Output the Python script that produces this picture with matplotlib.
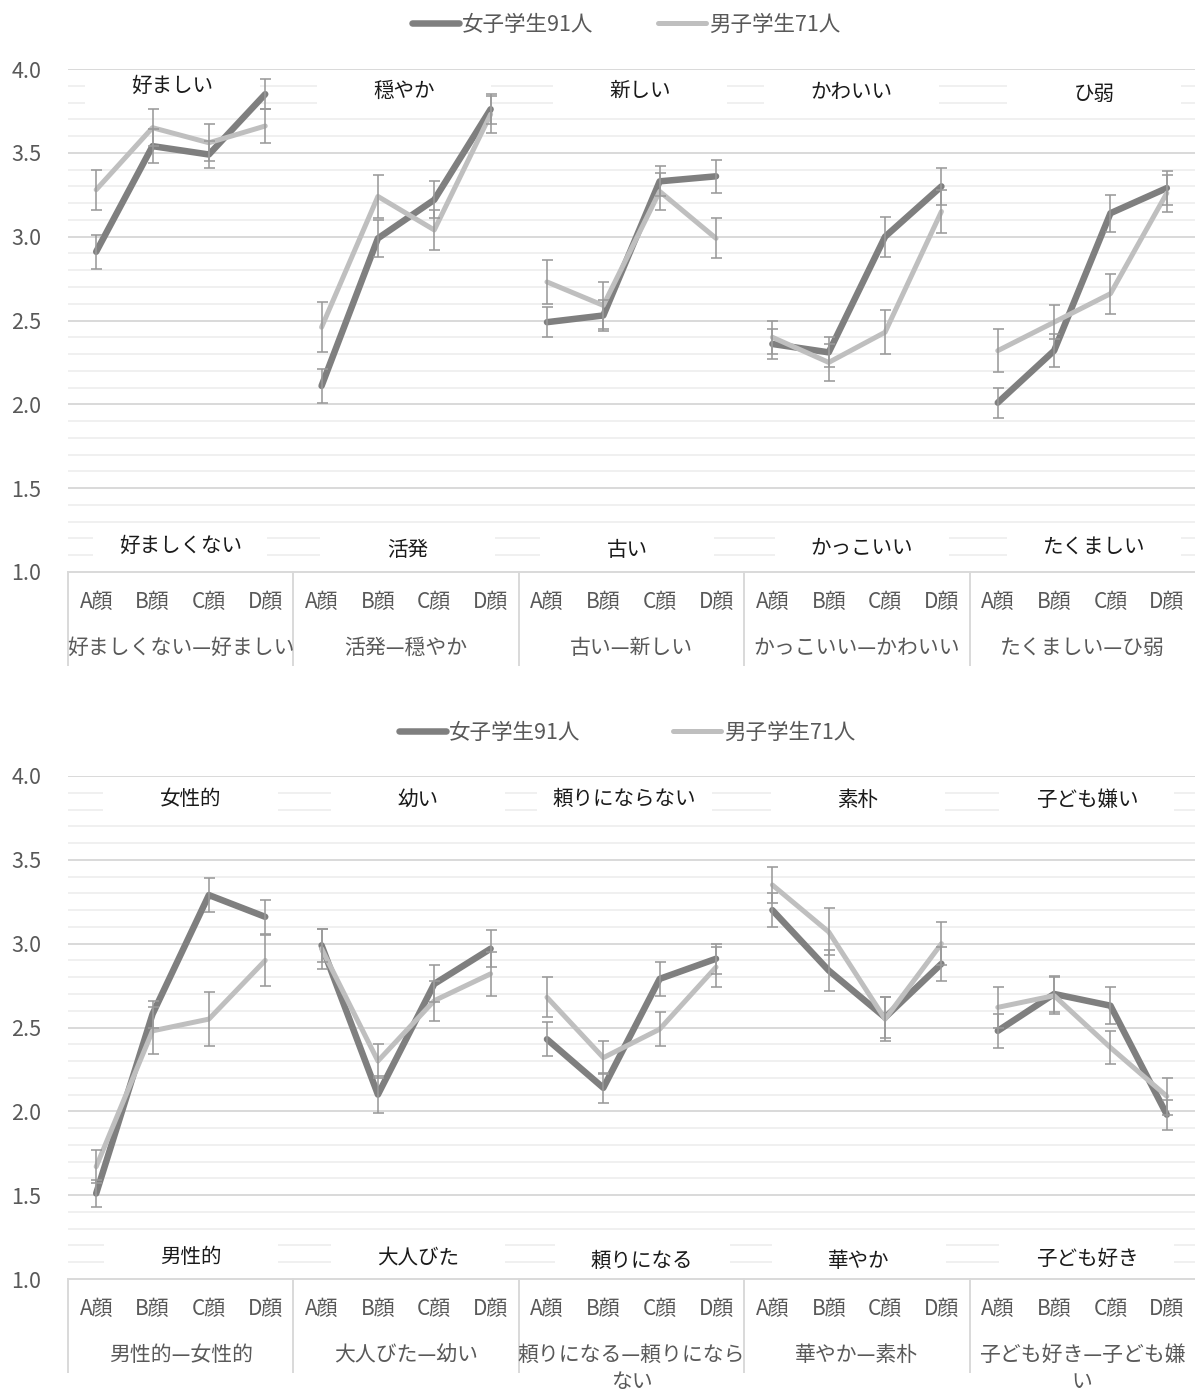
import matplotlib
matplotlib.use('Agg')
import matplotlib.pyplot as plt
from matplotlib.lines import Line2D
from matplotlib.patches import Rectangle
import matplotlib.transforms as mtransforms
import numpy as np

plt.rcParams['font.family'] = ['Noto Sans CJK JP', 'DejaVu Sans']

# ---------------- data ----------------
faces = ['A顔', 'B顔', 'C顔', 'D顔']
legend_labels = ['女子学生91人', '男子学生71人']

groups1 = ['好ましくない—好ましい', '活発—穏やか', '古い—新しい', 'かっこいい—かわいい', 'たくましい—ひ弱']
poles_hi1 = ['好ましい', '穏やか', '新しい', 'かわいい', 'ひ弱']
poles_lo1 = ['好ましくない', '活発', '古い', 'かっこいい', 'たくましい']
female1 = [2.91, 3.54, 3.49, 3.85, 2.11, 2.99, 3.22, 3.76, 2.49, 2.53, 3.33, 3.36,
           2.36, 2.31, 3.00, 3.30, 2.01, 2.32, 3.14, 3.29]
female1_err = [0.10, 0.10, 0.08, 0.09, 0.10, 0.11, 0.11, 0.09, 0.09, 0.09, 0.09, 0.10,
               0.09, 0.09, 0.12, 0.11, 0.09, 0.10, 0.11, 0.10]
male1 = [3.28, 3.65, 3.56, 3.66, 2.46, 3.24, 3.04, 3.73, 2.73, 2.59, 3.27, 2.99,
         2.40, 2.25, 2.43, 3.15, 2.32, 2.49, 2.66, 3.26]
male1_err = [0.12, 0.11, 0.11, 0.10, 0.15, 0.13, 0.12, 0.11, 0.13, 0.14, 0.11, 0.12,
             0.10, 0.11, 0.13, 0.13, 0.13, 0.10, 0.12, 0.11]

groups2 = ['男性的—女性的', '大人びた—幼い', '頼りになる—頼りになら\nない', '華やか—素朴', '子ども好き—子ども嫌\nい']
poles_hi2 = ['女性的', '幼い', '頼りにならない', '素朴', '子ども嫌い']
poles_lo2 = ['男性的', '大人びた', '頼りになる', '華やか', '子ども好き']
female2 = [1.51, 2.58, 3.29, 3.16, 2.99, 2.10, 2.76, 2.97, 2.43, 2.14, 2.79, 2.91,
           3.20, 2.84, 2.56, 2.88, 2.48, 2.70, 2.63, 1.98]
female2_err = [0.08, 0.08, 0.10, 0.10, 0.10, 0.11, 0.11, 0.11, 0.10, 0.09, 0.10, 0.09,
               0.10, 0.12, 0.12, 0.10, 0.10, 0.11, 0.11, 0.09]
male2 = [1.67, 2.48, 2.55, 2.90, 2.97, 2.30, 2.66, 2.82, 2.68, 2.32, 2.49, 2.86,
         3.35, 3.07, 2.55, 3.00, 2.62, 2.69, 2.38, 2.09]
male2_err = [0.10, 0.14, 0.16, 0.15, 0.12, 0.10, 0.12, 0.13, 0.12, 0.10, 0.10, 0.12,
             0.11, 0.14, 0.13, 0.13, 0.12, 0.11, 0.10, 0.11]

# ---------------- layout / style ----------------
W, H = 1195, 1396
FEMALE_C = '#7f7f7f'
MALE_C = '#bfbfbf'
ERR_C = '#9a9a9a'
TXT_C = '#595959'
px = 72.0 / 100.0  # points per pixel

hi_pos1 = [(1.35, 3.90), (5.46, 3.87), (9.65, 3.87), (13.41, 3.86), (17.71, 3.85)]
lo_pos1 = [(1.49, 1.155), (5.53, 1.13), (9.42, 1.13), (13.59, 1.14), (17.71, 1.15)]
hi_pos2 = [(1.67, 3.86), (5.71, 3.86), (9.38, 3.865), (13.52, 3.855), (17.58, 3.855)]
lo_pos2 = [(1.68, 1.13), (5.71, 1.13), (9.69, 1.11), (13.54, 1.11), (17.58, 1.12)]

fig = plt.figure(figsize=(W / 100, H / 100), dpi=100)


def draw(top_px, bot_px, female, ferr, male, merr, groups, hi, lo, hi_pos, lo_pos,
         leg_y, leg_x, colspace):
    ax = fig.add_axes([68 / W, 1 - bot_px / H, (W - 68) / W, (bot_px - top_px) / H])
    n = len(female)
    x = np.arange(n)
    ax.set_xlim(-0.5, n - 0.5)
    ax.set_ylim(1.0, 4.0)
    # grid
    for v in np.arange(1.1, 4.0, 0.1):
        if abs(v * 2 - round(v * 2)) > 1e-6:
            ax.axhline(v, color='#f0f0f0', lw=1.4, zorder=0.5)
    for v in np.arange(1.5, 4.01, 0.5):
        ax.axhline(v, color='#d9d9d9', lw=1.4, zorder=0.6)
    for s in ['top', 'right', 'left']:
        ax.spines[s].set_visible(False)
    ax.spines['bottom'].set_color('#d9d9d9')
    ax.spines['bottom'].set_linewidth(1.4)
    ax.set_yticks(np.arange(1.0, 4.01, 0.5))
    ax.set_yticklabels(['%.1f' % v for v in np.arange(1.0, 4.01, 0.5)])
    ax.tick_params(axis='y', length=0, pad=27 * px, labelsize=15.5, labelcolor=TXT_C)
    ax.set_xticks(x)
    ax.set_xticklabels(faces * 5)
    ax.tick_params(axis='x', length=0, pad=19 * px, labelsize=15, labelcolor=TXT_C)

    # white label boxes
    for (xc, yc) in hi_pos:
        ax.add_patch(Rectangle((xc - 1.55, 3.765), 3.1, 0.2, facecolor='white',
                               edgecolor='none', zorder=1))
    for (xc, yc) in lo_pos:
        ax.add_patch(Rectangle((xc - 1.55, 1.035), 3.1, 0.2, facecolor='white',
                               edgecolor='none', zorder=1))
    for t, (xc, yc) in zip(hi, hi_pos):
        ax.text(xc, yc, t, ha='center', va='center', fontsize=14.8, color='#1a1a1a', zorder=2)
    for t, (xc, yc) in zip(lo, lo_pos):
        ax.text(xc, yc, t, ha='center', va='center', fontsize=14.8, color='#1a1a1a', zorder=2)

    # series
    for g in range(5):
        sl = slice(4 * g, 4 * g + 4)
        ax.plot(x[sl], np.array(female)[sl], color=FEMALE_C, lw=6.5 * px, zorder=3,
                solid_capstyle='round', solid_joinstyle='round')
        ax.plot(x[sl], np.array(male)[sl], color=MALE_C, lw=5 * px, zorder=3.5,
                solid_capstyle='round', solid_joinstyle='round')
    ax.errorbar(x, female, yerr=ferr, fmt='none', ecolor=ERR_C, elinewidth=1.6 * px,
                capsize=5.5 * px, capthick=1.6 * px, zorder=5)
    ax.errorbar(x, male, yerr=merr, fmt='none', ecolor=ERR_C, elinewidth=1.6 * px,
                capsize=5.5 * px, capthick=1.6 * px, zorder=5)

    # group separators and labels
    h = bot_px - top_px
    trans = mtransforms.blended_transform_factory(ax.transData, ax.transAxes)
    sep_len = min(93, H - bot_px) / h
    for b in range(6):
        xb = 4 * b - 0.5
        if xb > n - 0.6:
            continue
        ax.add_line(Line2D([xb, xb], [0, -sep_len], transform=trans, color='#d9d9d9',
                           lw=1.4, clip_on=False))
    for g, lab in enumerate(groups):
        ax.text(4 * g + 1.5, -65 / h, lab, transform=trans, ha='center', va='top',
                fontsize=15, color=TXT_C, linespacing=1.3)

    handles = [Line2D([], [], color=FEMALE_C, lw=6.5 * px, solid_capstyle='round'),
               Line2D([], [], color=MALE_C, lw=5 * px, solid_capstyle='round')]
    fig.legend(handles, legend_labels, loc='center', bbox_to_anchor=(leg_x / W, 1 - leg_y / H),
               ncol=2, frameon=False, fontsize=15.5, labelcolor=TXT_C, handlelength=2.2,
               handletextpad=0.15, columnspacing=colspace)
    return ax


draw(69, 572, female1, female1_err, male1, male1_err, groups1, poles_hi1, poles_lo1,
     hi_pos1, lo_pos1, 25, 626, 3.0)
draw(776, 1279, female2, female2_err, male2, male2_err, groups2, poles_hi2, poles_lo2,
     hi_pos2, lo_pos2, 733, 627, 4.3)

fig.savefig('out.png', dpi=100, facecolor='white')
